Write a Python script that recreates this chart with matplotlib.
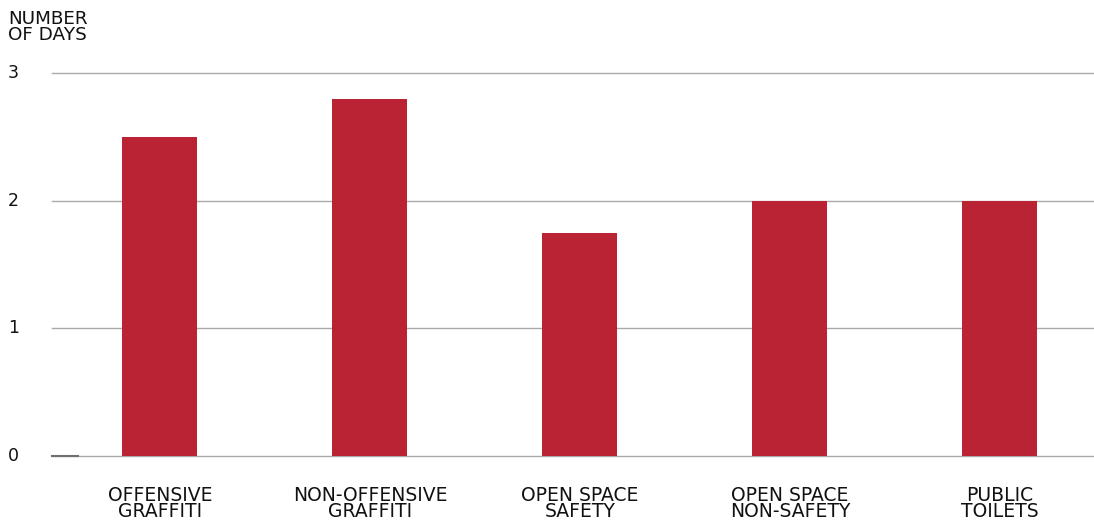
import numpy as np
import matplotlib.pyplot as plt

plt.rcParams['font.family'] = ['DejaVu Sans']

# data
categories = ['OFFENSIVE\nGRAFFITI', 'NON-OFFENSIVE\nGRAFFITI', 'OPEN SPACE\nSAFETY',
              'OPEN SPACE\nNON-SAFETY', 'PUBLIC\nTOILETS']
days = [2.5, 2.8, 1.75, 2.0, 2.0]
yticks = [0, 1, 2, 3]

bar_color = '#BA2334'

fig = plt.figure(figsize=(10.94, 5.23), dpi=100)
ax = fig.add_axes([52 / 1094, 1 - 456 / 523, 1 - 52 / 1094, (456 - 73) / 523])

index = np.arange(len(categories))
ax.bar(index, days, width=0.357, color=bar_color, zorder=3)

ax.set_xlim(-0.514, 4.448)
ax.set_ylim(0, 3)
ax.set_yticks([])
ax.set_xticks([])
for v in yticks:
    ax.axhline(v, color='#aaaaaa', linewidth=1, zorder=1, clip_on=False)
for s in ax.spines.values():
    s.set_visible(False)

# y tick labels at left edge of figure
for v in yticks:
    ax.text(-44 / (1094 - 52), v, str(v), transform=ax.get_yaxis_transform(),
            ha='left', va='center', fontsize=12.5, color='#111111')

# small dark segment at origin
ax.plot([0, 26 / (1094 - 52)], [0, 0], transform=ax.get_yaxis_transform(),
        color='#707070', linewidth=1.5, zorder=4, clip_on=False)

# category labels
for i, lab in enumerate(categories):
    ax.text(i, -0.235, lab, ha='center', va='top', fontsize=13.5,
            color='#111111', linespacing=0.82)

fig.text(8 / 1094, 1 - 10 / 523, 'NUMBER\nOF DAYS', ha='left', va='top', fontsize=13.2,
         color='#111111', linespacing=0.85)

fig.savefig('out.png', dpi=100)
